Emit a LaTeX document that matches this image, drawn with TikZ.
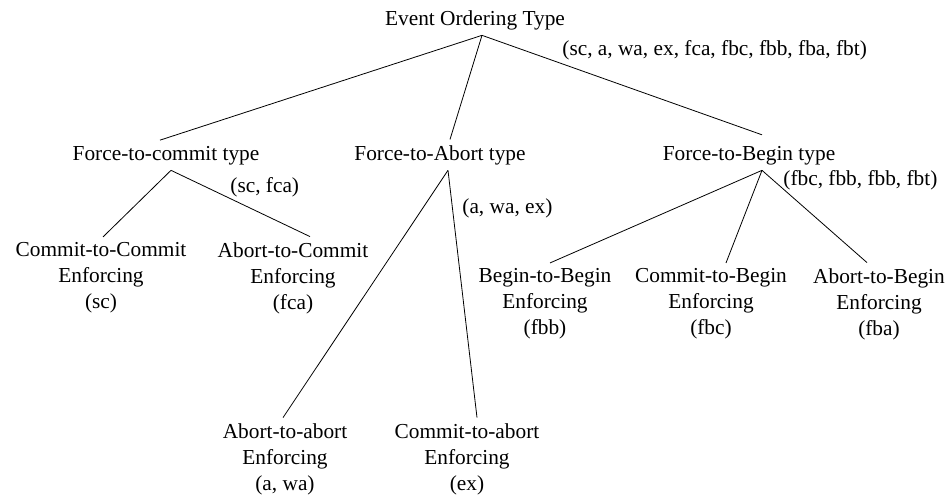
\documentclass[tikz,border=0pt]{standalone}
\usepackage{fontspec}
\setmainfont{Liberation Serif}
\begin{document}
\begin{tikzpicture}[x=0.75pt,y=-0.75pt,draw=black!100,line width=0.6pt]
	\def \rowzero{25}
	\def \rowone{160}
	\def \rowtwo{278}
	\def \rowtwob{304}
	\def \rowthree{459}
	\tikzstyle{t-node}=[inner sep=4pt,font=\fontsize{16}{19.5}\selectfont]
	\tikzstyle{l-node}=[t-node,align=center]
	\tikzstyle{annot}=[inner sep=0pt,anchor=base west,font=\fontsize{16}{19.5}\selectfont]
	\useasboundingbox (0,0) rectangle (950,496);
	% root
	\node[t-node,anchor=base] (eot) at (475,\rowzero) {Event Ordering Type};
	\node[annot] (eot-lbl) at (562,55) {(sc, a, wa, ex, fca, fbc, fbb, fba, fbt)};
	
	% types
	\node[t-node,anchor=base] (ftc) at (166,\rowone) {Force-to-commit type};
	\node[t-node,anchor=base] (fta) at (440,\rowone) {Force-to-Abort type};
	\node[t-node,anchor=base] (ftb) at (749,\rowone) {Force-to-Begin type};
	\node[annot] (ftc-lbl) at (230,192) {(sc, fca)};
	\node[annot] (fta-lbl) at (462,213) {(a, wa, ex)};
	\node[annot] (ftb-lbl) at (783,185) {(fbc, fbb, fbb, fbt)};
	
	% enforcing leaves
	\node[l-node] (cc) at (101,\rowtwo) {Commit-to-Commit\\Enforcing\\(sc)};
	\node[l-node] (ac) at (293,\rowtwo) {Abort-to-Commit\\Enforcing\\(fca)};
	\node[l-node] (aa) at (285,\rowthree) {Abort-to-abort\\Enforcing\\(a, wa)};
	\node[l-node] (ca) at (467,\rowthree) {Commit-to-abort\\Enforcing\\(ex)};
	\node[l-node] (bb) at (545,\rowtwob) {Begin-to-Begin\\Enforcing\\(fbb)};
	\node[l-node] (cb) at (711,\rowtwob) {Commit-to-Begin\\Enforcing\\(fbc)};
	\node[l-node] (ab) at (879,\rowtwob) {Abort-to-Begin\\Enforcing\\(fba)};
	
	\draw ([xshift=5.25pt]eot.south) -- ([xshift=-4.5pt]ftc.north);
	\draw ([xshift=5.25pt]eot.south) -- ([xshift=7.5pt]fta.north);
	\draw ([xshift=5.25pt]eot.south) -- ([xshift=9.75pt,yshift=4pt]ftb.north);
	%
	\draw ([xshift=3.75pt]ftc.south) -- ([xshift=1.5pt]cc.north);
	\draw ([xshift=3.75pt]ftc.south) -- ([xshift=12.75pt]ac.north);
	%
	\draw ([xshift=6pt]fta.south) -- ([xshift=-1.5pt]aa.north);
	\draw ([xshift=6pt]fta.south) -- ([xshift=7.5pt]ca.north);
	%
	\draw ([xshift=9.75pt]ftb.south) -- ([xshift=3.75pt]bb.north);
	\draw ([xshift=9.75pt]ftb.south) -- ([xshift=11.25pt]cb.north);
	\draw ([xshift=9.75pt]ftb.south) -- ([xshift=-9pt]ab.north);
\end{tikzpicture}
\end{document}
